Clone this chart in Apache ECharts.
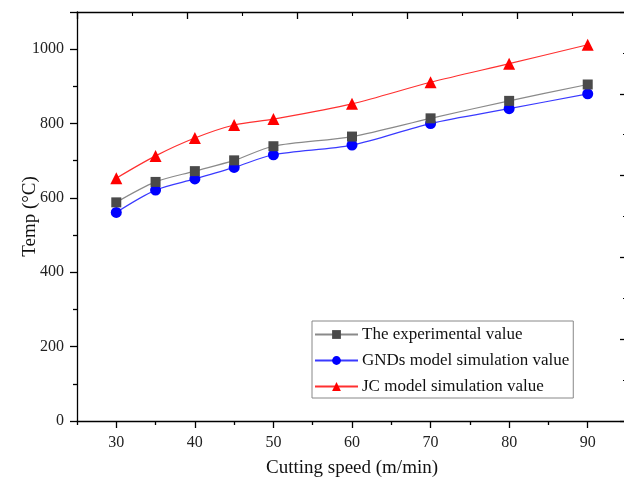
<!DOCTYPE html>
<html>
<head>
<meta charset="utf-8">
<script src="https://cdn.jsdelivr.net/npm/echarts@6/dist/echarts.min.js"></script>
<style>html,body{margin:0;padding:0;background:#fff}#c{width:624px;height:480px}</style>
</head>
<body>
<div id="c"></div>
<script>
const speeds = [30, 35, 40, 45, 50, 60, 70, 80, 90];
const experimental = [588, 643, 672, 701, 739, 765, 814, 861, 905];
const gndsModel = [561, 621, 651, 682, 716, 742, 800, 840, 880];
const jcModel = [653, 713, 761, 796, 812, 853, 911, 961, 1012];
const seriesNames = ['The experimental value', 'GNDs model simulation value', 'JC model simulation value'];
const xMajorTicks = [30, 40, 50, 60, 70, 80, 90];
const xMinorTicks = [25, 35, 45, 55, 65, 75, 85, 95];

const FONT = 'Liberation Serif';
const chart = echarts.init(document.getElementById('c'), null, {renderer: 'canvas'});
const pairs = arr => speeds.map((s, i) => [s, arr[i]]);
const frameAxis = (pos) => ({
  type: 'value', position: pos, min: 0, max: 5, interval: 1,
  axisLine: {show: true, onZero: false, lineStyle: {color: '#000', width: 1.3}},
  axisTick: {show: true, inside: true, length: 7, lineStyle: {color: '#000', width: 1.3}},
  minorTick: {show: true, splitNumber: 2, length: 4, lineStyle: {color: '#000', width: 1.1}},
  axisLabel: {show: false}, splitLine: {show: false}
});
chart.setOption({
  animation: false,
  backgroundColor: '#fff',
  grid: {left: 77, top: 12, right: -3, bottom: 59, containLabel: false, outerBoundsMode: 'none'},
  legend: {
    left: 312, top: 321, orient: 'vertical',
    data: seriesNames,
    itemWidth: 43, itemHeight: 11, itemGap: 9,
    padding: [5, 4, 3, 2],
    borderColor: '#888', borderWidth: 1,
    textStyle: {fontFamily: FONT, fontSize: 17, color: '#111', padding: [0, 0, 0, -1]}
  },
  xAxis: [{
    type: 'value', min: 25, max: 95, interval: 5,
    name: 'Cutting speed (m/min)', nameLocation: 'middle', nameGap: 38,
    nameTextStyle: {fontFamily: FONT, fontSize: 19, color: '#111'},
    axisLine: {show: true, onZero: false, lineStyle: {color: '#000', width: 1.3}},
    axisTick: {show: true, length: 7, customValues: xMajorTicks, lineStyle: {color: '#000', width: 1.3}},
    axisLabel: {fontFamily: FONT, fontSize: 16, color: '#222', margin: 14, customValues: xMajorTicks},
    splitLine: {show: false}
  }, frameAxis('top'), {
    type: 'value', position: 'bottom', min: 25, max: 95, interval: 5,
    axisLine: {show: false, onZero: false},
    axisTick: {show: true, length: 4, customValues: xMinorTicks, lineStyle: {color: '#000', width: 1.3}},
    axisLabel: {show: false}, splitLine: {show: false}
  }],
  yAxis: [{
    type: 'value', min: 0, max: 1100, interval: 200,
    name: 'Temp (°C)', nameLocation: 'middle', nameGap: 37, nameRotate: 90, nameMoveOverlap: false,
    nameTextStyle: {fontFamily: FONT, fontSize: 19, color: '#111'},
    axisLine: {show: true, onZero: false, lineStyle: {color: '#000', width: 1.3}},
    axisTick: {show: true, length: 7, lineStyle: {color: '#000', width: 1.3}},
    minorTick: {show: true, splitNumber: 2, length: 4, lineStyle: {color: '#000', width: 1.3}},
    axisLabel: {fontFamily: FONT, fontSize: 16, color: '#222', margin: 13,
      formatter: v => v > 1000 ? '' : String(v)},
    splitLine: {show: false}
  }, frameAxis('right')],
  series: [
    {name: seriesNames[0], type: 'line', smooth: 0.3, data: pairs(experimental),
     symbol: 'rect', symbolSize: 10, itemStyle: {color: '#4a4a4a'},
     lineStyle: {color: '#8a8a8a', width: 1.2}, z: 3},
    {name: seriesNames[1], type: 'line', smooth: 0.3, data: pairs(gndsModel),
     symbol: 'circle', symbolSize: 11, itemStyle: {color: '#0000ff'},
     lineStyle: {color: '#3a3aff', width: 1.2}, z: 2},
    {name: seriesNames[2], type: 'line', smooth: 0.3, data: pairs(jcModel),
     symbol: 'triangle', symbolSize: 12, itemStyle: {color: '#ff0000'},
     lineStyle: {color: '#ff3030', width: 1.2}, z: 4}
  ]
});
</script>
</body>
</html>
